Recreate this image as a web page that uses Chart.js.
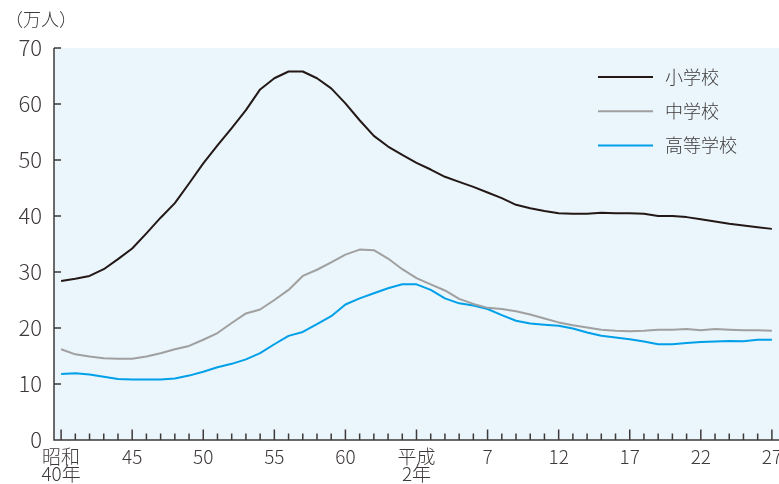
<!DOCTYPE html>
<html lang="ja">
<head>
<meta charset="utf-8">
<script src="https://cdn.jsdelivr.net/npm/chart.js@4.4.1/dist/chart.umd.min.js"></script>
<style>
html, body { margin: 0; padding: 0; background: #fff; }
#wrap { position: relative; width: 779px; height: 484px; }
</style>
</head>
<body>
<div id="wrap"><canvas id="chart"></canvas></div>
<script>
"use strict";

// ---------- Data ----------
const years = [
  1965, 1966, 1967, 1968, 1969, 1970, 1971, 1972, 1973, 1974,
  1975, 1976, 1977, 1978, 1979, 1980, 1981, 1982, 1983, 1984,
  1985, 1986, 1987, 1988, 1989, 1990, 1991, 1992, 1993, 1994,
  1995, 1996, 1997, 1998, 1999, 2000, 2001, 2002, 2003, 2004,
  2005, 2006, 2007, 2008, 2009, 2010, 2011, 2012, 2013, 2014,
  2015,
];
const tickYears = [1965, 1970, 1975, 1980, 1985, 1990, 1995, 2000, 2005, 2010, 2015];
const tickTexts = [["昭和", "40年"], "45", "50", "55", "60", ["平成", "2年"], "7", "12", "17", "22", "27"];
const yTicks = [0, 10, 20, 30, 40, 50, 60, 70];

const seriesNames = ["小学校", "中学校", "高等学校"];
const elementary = [
  28.4, 28.8, 29.3, 30.5, 32.3, 34.2, 36.9, 39.7, 42.3, 45.8,
  49.4, 52.6, 55.7, 58.9, 62.6, 64.6, 65.8, 65.8, 64.6, 62.8,
  60.1, 57.1, 54.3, 52.4, 50.9, 49.5, 48.3, 47.0, 46.1, 45.2,
  44.2, 43.2, 42.0, 41.4, 40.9, 40.5, 40.4, 40.4, 40.6, 40.5,
  40.5, 40.4, 40.0, 40.0, 39.8, 39.4, 39.0, 38.6, 38.3, 38.0,
  37.7,
];
const juniorHigh = [
  16.2, 15.3, 14.9, 14.6, 14.5, 14.5, 14.9, 15.5, 16.2, 16.8,
  17.9, 19.1, 20.9, 22.6, 23.3, 25.0, 26.8, 29.3, 30.4, 31.7,
  33.1, 34.0, 33.9, 32.4, 30.5, 28.9, 27.8, 26.7, 25.2, 24.3,
  23.6, 23.4, 23.0, 22.4, 21.7, 21.0, 20.5, 20.1, 19.7, 19.5,
  19.4, 19.5, 19.7, 19.7, 19.8, 19.6, 19.8, 19.7, 19.6, 19.6,
  19.5,
];
const highSchool = [
  11.8, 11.9, 11.7, 11.3, 10.9, 10.8, 10.8, 10.8, 11.0, 11.5,
  12.2, 13.0, 13.6, 14.4, 15.5, 17.1, 18.6, 19.3, 20.7, 22.1,
  24.2, 25.3, 26.2, 27.1, 27.8, 27.8, 26.8, 25.3, 24.4, 24.0,
  23.4, 22.3, 21.3, 20.8, 20.6, 20.4, 19.9, 19.2, 18.6, 18.3,
  18.0, 17.6, 17.1, 17.1, 17.3, 17.5, 17.6, 17.7, 17.65, 17.9,
  17.9,
];

// ---------- Style ----------
const FONT = "'Noto Sans CJK JP', 'Liberation Sans', sans-serif";
const TEXT = "#3e3a39";
const AXIS = "#3e3a39";
const PLOT_BG = "#eaf5fc";
const colors = ["#231815", "#a0a0a0", "#00a0e9"];

// draws plot background, inward tick marks, legend and unit label
const decor = {
  id: "decor",
  beforeDraw(chart) {
    const { ctx, chartArea: a } = chart;
    ctx.save();
    ctx.fillStyle = "#fff";
    ctx.fillRect(0, 0, chart.width, chart.height);
    ctx.fillStyle = PLOT_BG;
    ctx.fillRect(a.left, a.top, a.right - a.left, a.bottom - a.top);
    ctx.restore();
  },
  afterDatasetsDraw(chart) {
    const { ctx, chartArea: a, scales: { x, y } } = chart;
    ctx.save();
    ctx.strokeStyle = AXIS;
    ctx.lineWidth = 1.5;
    ctx.beginPath();
    ctx.moveTo(a.left, a.top);
    ctx.lineTo(a.left, a.bottom);
    ctx.lineTo(a.right, a.bottom);
    yTicks.forEach((v) => {
      const py = y.getPixelForValue(v);
      ctx.moveTo(a.left, py);
      ctx.lineTo(a.left + 7, py);
    });
    years.forEach((yr, i) => {
      const px = x.getPixelForValue(i);
      const len = tickYears.includes(yr) ? 10.5 : 6.5;
      ctx.moveTo(px, a.bottom);
      ctx.lineTo(px, a.bottom - len);
    });
    ctx.stroke();

    // legend
    ctx.font = `300 18px ${FONT}`;
    ctx.textBaseline = "middle";
    ctx.fillStyle = TEXT;
    chart.data.datasets.forEach((ds, i) => {
      const ly = a.top + 29 + i * 34.3;
      ctx.strokeStyle = ds.borderColor;
      ctx.lineWidth = 2;
      ctx.beginPath();
      ctx.moveTo(a.right - 181, ly);
      ctx.lineTo(a.right - 126, ly);
      ctx.stroke();
      ctx.fillText(ds.label, a.right - 114, ly);
    });

    // unit
    ctx.font = `300 18px ${FONT}`;
    ctx.fillText("（万人）", 5, 19);
    ctx.restore();
  },
};

const lineDs = (label, data, color) => ({
  label, data,
  borderColor: color,
  borderWidth: 2,
  pointRadius: 0,
  tension: 0,
  borderJoinStyle: "round",
  fill: false,
});

new Chart(document.getElementById("chart"), {
  type: "line",
  data: {
    labels: years,
    datasets: [
      lineDs(seriesNames[0], elementary, colors[0]),
      lineDs(seriesNames[1], juniorHigh, colors[1]),
      lineDs(seriesNames[2], highSchool, colors[2]),
    ],
  },
  options: {
    responsive: true,
    maintainAspectRatio: false,
    animation: false,
    layout: { padding: { top: 48, right: 0, left: 0, bottom: 0 } },
    plugins: { legend: { display: false }, tooltip: { enabled: false } },
    scales: {
      x: {
        type: "category",
        offset: true,
        grid: { display: false, drawTicks: false },
        border: { display: false },
        afterFit: (s) => { s.height = 44; s.paddingLeft = 0; s.paddingRight = 0; },
        ticks: {
          autoSkip: false,
          maxRotation: 0,
          padding: 8,
          color: TEXT,
          font: { family: FONT, size: 19, weight: 300, lineHeight: 0.9 },
          callback: (v, i) => {
            const k = tickYears.indexOf(years[i]);
            return k >= 0 ? tickTexts[k] : "";
          },
        },
      },
      y: {
        min: 0,
        max: 70,
        grid: { display: false, drawTicks: false },
        border: { display: false },
        afterFit: (s) => { s.width = 54; },
        ticks: {
          stepSize: 10,
          padding: 12,
          color: TEXT,
          font: { family: FONT, size: 22, weight: 300 },
        },
      },
    },
  },
  plugins: [decor],
});
</script>
</body>
</html>
